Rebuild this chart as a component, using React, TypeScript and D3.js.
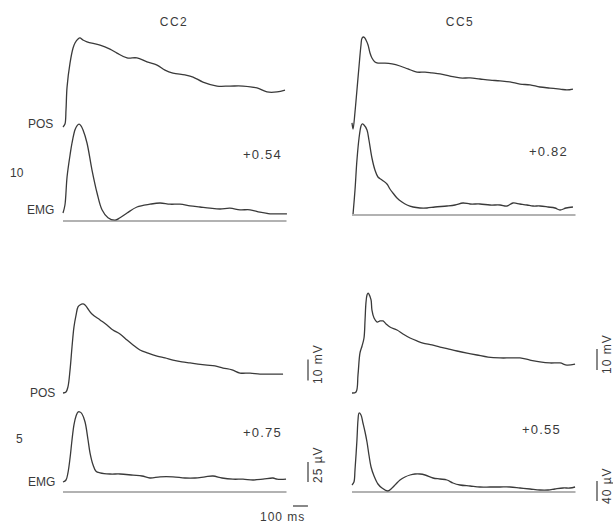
import React from 'react';
import * as d3 from 'd3';

type Pt = [number, number];

// Column (subject) titles, row (condition) labels, correlation coefficients
const columnTitles = ['CC2', 'CC5'];
const rowLabels = ['10', '5'];
const traceLabels = ['POS', 'EMG'];
const coefficients = ['+0.54', '+0.82', '+0.75', '+0.55'];
const scaleLabels = ['10 mV', '25 \u00b5V', '10 mV', '40 \u00b5V', '100 ms'];

// time in ms, position in mV (relative to start)
const posCC2r10: Pt[] = [
  [0, 0], [13, 1.4], [20, 8.1], [27, 19.0], [47, 30.5], [67, 37.6], [80, 40], [100, 41.9],
  [113, 42.4], [133, 41.4], [160, 40.5], [247, 39.0], [313, 37.1], [360, 35.2], [427, 32.9],
  [493, 32.9], [560, 31.0], [627, 29.5], [680, 27.1], [733, 25.7], [813, 24.8], [867, 23.8],
  [933, 21.4], [1027, 19.5], [1113, 19.5], [1200, 19.5], [1293, 18.6], [1360, 16.7],
  [1427, 16.7], [1480, 17.6],
];
// EMG in µV above the zero line
const emgCC2r10: Pt[] = [
  [0, 10], [13, 20], [27, 55], [47, 82.5], [60, 97.5], [80, 114], [93, 119], [107, 121],
  [120, 119], [133, 114], [160, 97.5], [193, 64], [227, 35], [260, 14], [300, 4], [347, 1],
  [380, 4], [427, 10], [493, 17.5], [580, 21], [647, 22.5], [713, 21], [780, 21], [847, 19],
  [913, 17.5], [980, 16], [1047, 15], [1113, 16], [1180, 14], [1247, 14], [1313, 11],
  [1380, 9], [1447, 9], [1493, 9],
];
const posCC5r10: Pt[] = [
  [0, 2.9], [7, 0], [20, 8.1], [33, 18.6], [47, 30], [60, 40], [67, 43.3], [80, 43.8],
  [93, 42.4], [107, 40], [120, 36.2], [133, 33.8], [153, 31.9], [173, 31.4], [220, 31.4],
  [267, 31], [320, 30], [373, 28.6], [433, 27.1], [487, 27.1], [533, 26.7], [587, 26.2],
  [653, 25.2], [720, 24.3], [787, 24.3], [853, 23.8], [920, 23.3], [987, 22.9], [1053, 22.4],
  [1120, 21.4], [1187, 21], [1253, 20], [1320, 19.5], [1387, 19], [1433, 18.6], [1473, 19],
];
const emgCC5r10: Pt[] = [
  [7, 2], [20, 50], [33, 110], [47, 154], [60, 178], [67, 182], [80, 180], [100, 170],
  [113, 150], [133, 114], [153, 90], [173, 76], [200, 70], [233, 62], [253, 52], [273, 44],
  [300, 34], [333, 26], [367, 20], [407, 16], [453, 14], [500, 14], [553, 16], [633, 18],
  [687, 20], [740, 24], [787, 22], [853, 22], [920, 20], [987, 20], [1033, 18], [1073, 24],
  [1120, 22], [1167, 20], [1207, 18], [1253, 18], [1307, 16], [1353, 14], [1387, 10],
  [1427, 14], [1473, 16],
];
const posCC2r5: Pt[] = [
  [0, 0], [20, 0.5], [33, 2.9], [47, 11], [60, 21.9], [73, 31.4], [87, 37.1], [100, 41],
  [113, 41.9], [133, 42.4], [147, 41.9], [167, 40], [193, 37.6], [247, 34.8], [293, 32.4],
  [333, 30], [380, 28.1], [427, 25.2], [467, 22.9], [513, 20.5], [567, 19], [627, 17.6],
  [680, 16.7], [733, 15.7], [793, 14.8], [847, 14.3], [900, 13.8], [960, 13.3], [1013, 12.9],
  [1067, 11.9], [1127, 11], [1180, 9.5], [1247, 9.5], [1313, 9], [1380, 9], [1467, 9],
];
const emgCC2r5: Pt[] = [
  [0, 12.5], [20, 15], [33, 24], [47, 42.5], [60, 65], [73, 84], [87, 95], [100, 100],
  [113, 100], [127, 97.5], [147, 87.5], [167, 65], [180, 49], [200, 34], [220, 26],
  [247, 24], [313, 22.5], [380, 22.5], [467, 21], [527, 20], [580, 17.5], [647, 19],
  [733, 19], [813, 17.5], [880, 17.5], [947, 19], [1000, 20], [1060, 17.5], [1133, 16],
  [1200, 16], [1267, 15], [1333, 16], [1400, 17.5], [1427, 16], [1487, 16],
];
const posCC5r5: Pt[] = [
  [0, 0], [27, 0.5], [40, 8.6], [53, 19], [67, 22.4], [80, 26.2], [87, 34.8], [93, 42.9],
  [100, 46.7], [107, 47.6], [113, 47.1], [127, 44.3], [133, 39.5], [147, 35.7], [167, 33.8],
  [187, 34.3], [207, 34.3], [227, 32.9], [253, 31.4], [300, 30], [340, 28.1], [387, 26.2],
  [433, 24.8], [473, 23.8], [533, 22.9], [587, 21.9], [640, 21], [700, 20], [767, 19],
  [833, 18.1], [907, 17.1], [987, 16.7], [1053, 16.7], [1120, 16.7], [1187, 15.7],
  [1253, 14.8], [1320, 14.3], [1387, 14.3], [1433, 13.3], [1487, 13.8],
];
const emgCC5r5: Pt[] = [
  [0, 14], [13, 20], [20, 44], [33, 104], [40, 144], [47, 158], [60, 154], [73, 138],
  [87, 120], [100, 100], [113, 74], [127, 50], [147, 32], [173, 16], [200, 8], [240, 2],
  [267, 8], [293, 16], [320, 24], [353, 30], [387, 34], [420, 36], [453, 36], [487, 34],
  [540, 28], [587, 26], [633, 24], [673, 18], [720, 14], [787, 12], [853, 10], [920, 10],
  [987, 10], [1053, 10], [1120, 8], [1187, 6], [1253, 4], [1307, 4], [1353, 6], [1407, 8],
  [1453, 8], [1487, 10],
];
const baselineSpan: Pt = [0, 1490];
const timeBar: Pt = [1533, 1633];
const posBar = [10]; // mV
const emgBars = [25, 40]; // µV

const INK = '#3a3a3a';
const FONT = '"Liberation Sans", Arial, sans-serif';

interface PanelProps {
  x0: number; posBase: number; emgBase: number; emgK: number;
  pos: Pt[]; emg: Pt[]; coef: string; coefX: number; coefY: number;
}

function Panel({ x0, posBase, emgBase, emgK, pos, emg, coef, coefX, coefY }: PanelProps) {
  const x = d3.scaleLinear().domain([0, 1500]).range([x0, x0 + 225]);
  const yP = d3.scaleLinear().domain([0, 50]).range([posBase, posBase - 105]);
  const yE = d3.scaleLinear().domain([0, 100]).range([emgBase, emgBase - 100 * emgK]);
  const lp = d3.line<Pt>().x(d => x(d[0])).y(d => yP(d[1])).curve(d3.curveCatmullRom.alpha(0.5));
  const le = d3.line<Pt>().x(d => x(d[0])).y(d => yE(d[1])).curve(d3.curveCatmullRom.alpha(0.5));
  return (
    <g>
      <path d={lp(pos) || ''} fill="none" stroke={INK} strokeWidth={1.3} strokeLinejoin="round" />
      <path d={le(emg) || ''} fill="none" stroke={INK} strokeWidth={1.3} strokeLinejoin="round" />
      <line x1={x(baselineSpan[0])} x2={x(baselineSpan[1])} y1={yE(0)} y2={yE(0)} stroke="#666" strokeWidth={1.2} />
      <text x={coefX} y={coefY} fontSize={13} letterSpacing={1.2} fill={INK} fontFamily={FONT}>{coef}</text>
    </g>
  );
}

export default function App() {
  const xBL = d3.scaleLinear().domain([0, 1500]).range([63, 288]);
  const yPL = d3.scaleLinear().domain([0, 50]).range([393, 393 - 105]);
  const yPR = yPL;
  const yEL = d3.scaleLinear().domain([0, 100]).range([492, 412]);
  const yER = d3.scaleLinear().domain([0, 100]).range([492, 442]);
  const txt = { fill: INK, fontFamily: FONT, fontSize: 12 } as const;
  const rot = (cx: number, cy: number, label: string) => (
    <text transform={`translate(${cx},${cy}) rotate(-90)`} {...txt} letterSpacing={1}>{label}</text>
  );
  return (
    <svg width={613} height={523} style={{ position: 'absolute', left: 0, top: 0, background: '#fff' }}>
      <rect width={613} height={523} fill="#fff" />
      <text x={174} y={26} textAnchor="middle" {...txt} letterSpacing={1.5}>{columnTitles[0]}</text>
      <text x={460} y={26} textAnchor="middle" {...txt} letterSpacing={1.5}>{columnTitles[1]}</text>

      <Panel x0={63} posBase={127} emgBase={221} emgK={0.8} pos={posCC2r10} emg={emgCC2r10}
        coef={coefficients[0]} coefX={243} coefY={159} />
      <Panel x0={352} posBase={129} emgBase={215} emgK={0.5} pos={posCC5r10} emg={emgCC5r10}
        coef={coefficients[1]} coefX={529} coefY={156} />
      <Panel x0={63} posBase={393} emgBase={492} emgK={0.8} pos={posCC2r5} emg={emgCC2r5}
        coef={coefficients[2]} coefX={243} coefY={437} />
      <Panel x0={352} posBase={393} emgBase={492} emgK={0.5} pos={posCC5r5} emg={emgCC5r5}
        coef={coefficients[3]} coefX={522} coefY={434} />

      <text x={28} y={128} {...txt}>{traceLabels[0]}</text>
      <text x={27} y={214} {...txt}>{traceLabels[1]}</text>
      <text x={10} y={177} {...txt}>{rowLabels[0]}</text>
      <text x={30} y={397} {...txt}>{traceLabels[0]}</text>
      <text x={28} y={486} {...txt}>{traceLabels[1]}</text>
      <text x={16} y={443} {...txt}>{rowLabels[1]}</text>

      {/* scale bars */}
      <line x1={308} x2={308} y1={yPL(6)} y2={yPL(6 + posBar[0])} stroke={INK} strokeWidth={1.2} />
      {rot(322, 384, scaleLabels[0])}
      <line x1={308} x2={308} y1={yEL(12.5)} y2={yEL(12.5 + emgBars[0])} stroke={INK} strokeWidth={1.2} />
      {rot(322, 483, scaleLabels[1])}
      <line x1={597} x2={597} y1={yPR(11)} y2={yPR(11 + posBar[0])} stroke={INK} strokeWidth={1.2} />
      {rot(611, 374, scaleLabels[2])}
      <line x1={597} x2={597} y1={yER(-18)} y2={yER(-18 + emgBars[1])} stroke={INK} strokeWidth={1.2} />
      {rot(611, 504, scaleLabels[3])}
      <line x1={xBL(timeBar[0])} x2={xBL(timeBar[1])} y1={506} y2={506} stroke={INK} strokeWidth={1.2} />
      <text x={260} y={521} {...txt} letterSpacing={1}>{scaleLabels[4]}</text>
    </svg>
  );
}
